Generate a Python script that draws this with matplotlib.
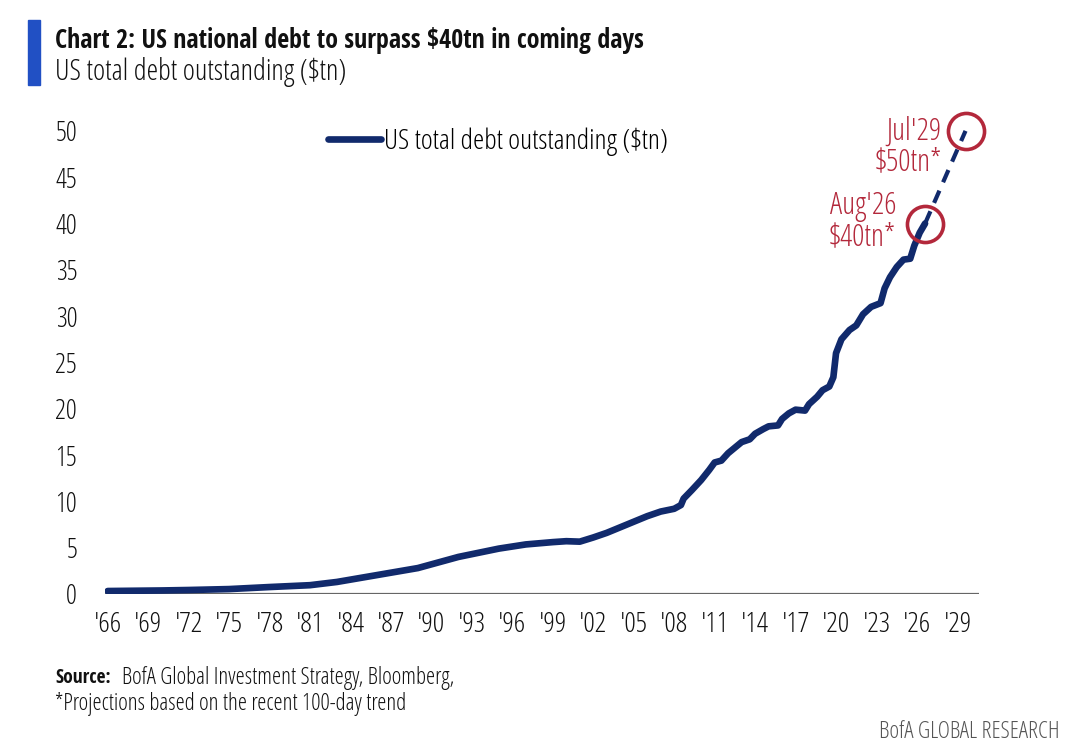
import matplotlib.pyplot as plt
from matplotlib.lines import Line2D
from matplotlib import font_manager
from matplotlib.font_manager import FontProperties

# --- data ---
years = [1966.0, 1968.0, 1970.0, 1972.0, 1975.0, 1978.0, 1981.0, 1983.0, 1985.0, 1987.0,
         1989.0, 1990.0, 1992.0, 1993.0, 1995.0, 1997.0, 1999.0, 2000.0, 2001.0, 2002.0,
         2003.0, 2004.0, 2005.0, 2006.0, 2007.0, 2008.0, 2008.5, 2008.7, 2009.3, 2010.0,
         2010.6, 2011.0, 2011.5, 2012.0, 2012.5, 2013.0, 2013.6, 2014.0, 2014.6, 2015.0,
         2015.7, 2016.0, 2016.5, 2017.0, 2017.7, 2018.0, 2018.6, 2019.0, 2019.5, 2019.8,
         2020.0, 2020.4, 2021.0, 2021.5, 2022.0, 2022.6, 2023.3, 2023.6, 2024.0, 2024.5,
         2025.0, 2025.5, 2025.8, 2026.2, 2026.6]
debt = [0.32, 0.35, 0.38, 0.43, 0.53, 0.75, 0.95, 1.3, 1.8, 2.3,
        2.8, 3.2, 4.0, 4.3, 4.9, 5.35, 5.6, 5.7, 5.65, 6.1,
        6.6, 7.2, 7.8, 8.4, 8.9, 9.2, 9.6, 10.3, 11.2, 12.3,
        13.4, 14.2, 14.4, 15.2, 15.8, 16.4, 16.7, 17.3, 17.8, 18.1,
        18.2, 18.9, 19.5, 19.9, 19.8, 20.5, 21.3, 22.0, 22.4, 23.4,
        26.0, 27.5, 28.5, 29.0, 30.2, 31.0, 31.4, 33.0, 34.2, 35.3,
        36.1, 36.2, 37.6, 39.0, 40.0]

proj_years = [2026.6, 2029.6]
proj_debt = [40.0, 50.0]

marked_years = [2026.6, 2029.6]
marked_debt = [40.0, 50.0]
marked_labels = ["Aug'26\n$40tn*", "Jul'29\n$50tn*"]

tick_years = list(range(1966, 2030, 3))
tick_labels = ["'%02d" % (y % 100) for y in tick_years]
y_ticks = list(range(0, 55, 5))

NAVY = '#112a6c'
RED = '#b3283b'


def find_font(filename, family, weight):
    for f in font_manager.fontManager.ttflist:
        if f.fname.endswith(filename):
            return lambda size: FontProperties(fname=f.fname, size=size)
    return lambda size: FontProperties(family=family, weight=weight, stretch='condensed', size=size)


light = find_font('OpenSans-CondLight.ttf', 'Open Sans', 300)
bold = find_font('OpenSans-CondBold.ttf', 'Open Sans', 700)

fig = plt.figure(figsize=(10.8, 7.48), dpi=100)
ax = fig.add_axes([0.0972, 0.2059, 0.8093, 0.6377])

ax.axhline(0, color='#666666', lw=1.6, zorder=1)
ax.plot(years, debt, color=NAVY, lw=4.8, solid_joinstyle='round',
        solid_capstyle='round', zorder=3)
ax.plot(proj_years, proj_debt, color=NAVY, lw=3.0, dashes=(3.2, 2.2), zorder=3)
ax.plot(marked_years, marked_debt, linestyle='', marker='o', markersize=26,
        markerfacecolor='none', markeredgecolor=RED, markeredgewidth=2.6,
        zorder=4, clip_on=False)

ax.text(2026.6 - 2.15, 40.2, marked_labels[0], color=RED, fontproperties=light(22),
        ha='right', va='center', linespacing=0.95)
ax.text(2029.6 - 1.75, 48.3, marked_labels[1], color=RED, fontproperties=light(22),
        ha='right', va='center', linespacing=0.95)

ax.set_xlim(1965.8, 2030.6)
ax.set_ylim(0, 51.5)
ax.set_xticks(tick_years)
ax.set_xticklabels(tick_labels)
ax.set_yticks(y_ticks)
ax.tick_params(axis='both', length=0, colors='#111111')
ax.tick_params(axis='y', pad=20)
ax.tick_params(axis='x', pad=12)
for lab in ax.get_xticklabels():
    lab.set_fontproperties(light(20.5))
for lab in ax.get_yticklabels():
    lab.set_fontproperties(light(19.5))
for s in ax.spines.values():
    s.set_visible(False)

fig.legend(handles=[Line2D([0], [0], color=NAVY, lw=4.8, solid_capstyle='round')],
          labels=['US total debt outstanding ($tn)'], loc='center left',
          bbox_to_anchor=(328 / 1080, 1 - 142 / 748), frameon=False, prop=light(20.5),
          handlelength=1.85, handletextpad=0.12, borderpad=0, borderaxespad=0)

# header / footer
fig.patches.append(plt.Rectangle((28 / 1080, 1 - 85 / 748), 12 / 1080, 65 / 748,
                                 transform=fig.transFigure, color='#2150c4'))
fig.text(55 / 1080, 1 - 40 / 748, 'Chart 2: US national debt to surpass $40tn in coming days',
         fontproperties=bold(18.7), va='center', ha='left', color='#111111')
fig.text(55 / 1080, 1 - 72 / 748, 'US total debt outstanding ($tn)',
         fontproperties=light(21), va='center', ha='left', color='#111111')
fig.text(55 / 1080, 1 - 678 / 748, 'Source:', fontproperties=bold(14),
         va='center', ha='left', color='#111111')
fig.text(122 / 1080, 1 - 678 / 748, 'BofA Global Investment Strategy, Bloomberg,',
         fontproperties=light(16.6), va='center', ha='left', color='#111111')
fig.text(55 / 1080, 1 - 704 / 748, '*Projections based on the recent 100-day trend',
         fontproperties=light(16.6), va='center', ha='left', color='#111111')
fig.text(1060 / 1080, 1 - 732 / 748, 'BofA GLOBAL RESEARCH', fontproperties=light(16.8),
         va='center', ha='right', color='#555555')

fig.savefig('out.png', dpi=100)
